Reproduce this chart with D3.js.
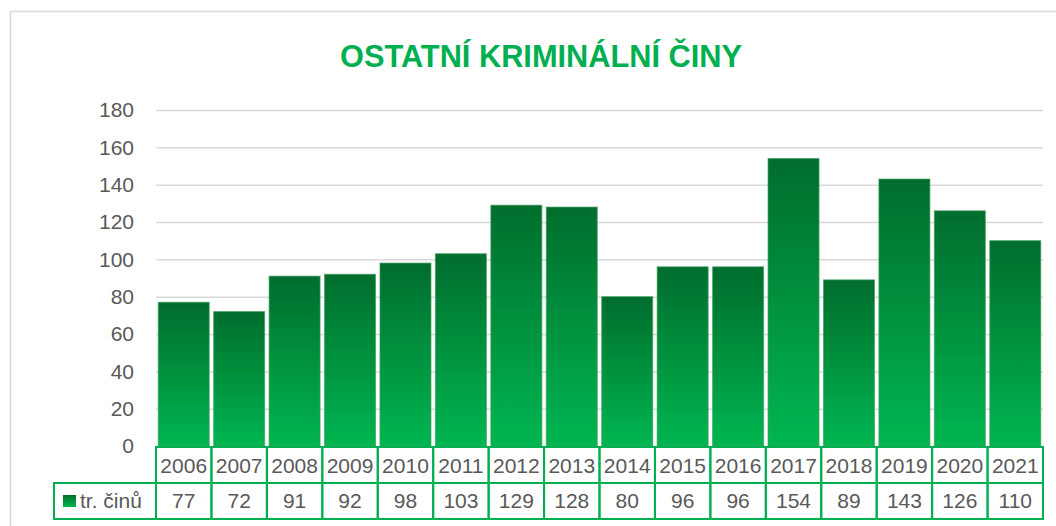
<!DOCTYPE html>
<html>
<head>
<meta charset="utf-8">
<script src="https://cdn.jsdelivr.net/npm/d3@7"></script>
<style>
  body { margin: 0; background: #fff; }
</style>
</head>
<body>
<div id="container"></div>
<script>
var title = 'OSTATNÍ KRIMINÁLNÍ ČINY'
var seriesName = 'tr. činů'
var years = ['2006', '2007', '2008', '2009', '2010', '2011', '2012', '2013',
             '2014', '2015', '2016', '2017', '2018', '2019', '2020', '2021']
var cases = [77, 72, 91, 92, 98, 103, 129, 128, 80, 96, 96, 154, 89, 143, 126, 110]
var yTicks = [0, 20, 40, 60, 80, 100, 120, 140, 160, 180]

var WIDTH = 1056
var HEIGHT = 526
var FONT = '"Liberation Sans", Arial, sans-serif'
var TEXT = '#595959'
var GREEN = '#00b050'

var plotLeft = 156, plotRight = 1043
var plotTop = 110, plotBottom = 446
var rowTop = 447, rowMid = 483, rowBottom = 519
var legendLeft = 54

var svg = d3.select('div#container').append('svg')
  .attr('width', WIDTH)
  .attr('height', HEIGHT)
  .style('display', 'block')

// per-bar gradient, dark on top
var grad = svg.append('defs').append('linearGradient')
  .attr('id', 'barFill')
  .attr('x1', 0).attr('y1', 0).attr('x2', 0).attr('y2', 1)
grad.append('stop').attr('offset', '0%').attr('stop-color', '#006d2d')
grad.append('stop').attr('offset', '100%').attr('stop-color', '#00b650')

// chart frame
svg.append('rect')
  .attr('x', 10.5).attr('y', 11.5)
  .attr('width', 1100).attr('height', 600)
  .attr('fill', 'none')
  .attr('stroke', '#d9d9d9')
  .attr('stroke-width', 1.5)

svg.append('text')
  .attr('x', 541).attr('y', 67)
  .attr('text-anchor', 'middle')
  .attr('textLength', 402)
  .attr('lengthAdjust', 'spacingAndGlyphs')
  .style('font-family', FONT)
  .style('font-weight', 'bold')
  .style('font-size', '31px')
  .style('fill', GREEN)
  .text(title)

var x = d3.scaleBand()
  .domain(years)
  .range([plotLeft, plotRight])
  .paddingInner(0.08)
  .paddingOuter(0.04)

var y = d3.scaleLinear()
  .domain([0, 180])
  .range([plotBottom, plotTop])

// gridlines + tick labels
var yAxis = svg.append('g')
  .attr('transform', 'translate(' + plotLeft + ',0)')
  .call(d3.axisLeft(y)
    .tickValues(yTicks)
    .tickSize(-(plotRight - plotLeft))
    .tickPadding(22)
    .tickFormat(d3.format('d')))
yAxis.select('.domain').remove()
yAxis.selectAll('.tick line')
  .attr('stroke', '#d9d9d9')
  .attr('stroke-width', 1.5)
yAxis.selectAll('.tick text')
  .style('font-family', FONT)
  .style('font-size', '21px')
  .style('fill', TEXT)

svg.append('g').selectAll('rect')
  .data(cases)
  .enter().append('rect')
  .attr('x', function (d, i) { return x(years[i]) })
  .attr('y', function (d) { return y(d) })
  .attr('width', x.bandwidth())
  .attr('height', function (d) { return y(0) - y(d) })
  .attr('fill', 'url(#barFill)')
  .attr('stroke', '#3e9e60')
  .attr('stroke-opacity', 0.7)
  .attr('stroke-width', 1)

// data table below the axis
var step = x.step()
var colLeft = function (i) { return plotLeft + i * step }
var table = svg.append('g')
  .attr('fill', 'none')
  .attr('stroke', GREEN)
  .attr('stroke-width', 2)

table.selectAll('rect.cat')
  .data(years)
  .enter().append('rect')
  .attr('x', function (d, i) { return colLeft(i) })
  .attr('y', rowTop)
  .attr('width', step)
  .attr('height', rowMid - rowTop)

table.selectAll('rect.val')
  .data(cases)
  .enter().append('rect')
  .attr('x', function (d, i) { return colLeft(i) })
  .attr('y', rowMid)
  .attr('width', step)
  .attr('height', rowBottom - rowMid)

table.append('rect')
  .attr('x', legendLeft)
  .attr('y', rowMid)
  .attr('width', plotLeft - legendLeft)
  .attr('height', rowBottom - rowMid)

svg.append('g').selectAll('text')
  .data(years)
  .enter().append('text')
  .attr('x', function (d, i) { return colLeft(i) + step / 2 })
  .attr('y', 473)
  .attr('text-anchor', 'middle')
  .style('font-family', FONT)
  .style('font-size', '21px')
  .style('fill', TEXT)
  .text(function (d) { return d })

svg.append('g').selectAll('text')
  .data(cases)
  .enter().append('text')
  .attr('x', function (d, i) { return colLeft(i) + step / 2 })
  .attr('y', 508)
  .attr('text-anchor', 'middle')
  .style('font-family', FONT)
  .style('font-size', '21px')
  .style('fill', TEXT)
  .text(function (d) { return d })

// legend key in the table
svg.append('rect')
  .attr('x', 63).attr('y', 495)
  .attr('width', 13).attr('height', 12)
  .attr('fill', 'url(#barFill)')
svg.append('text')
  .attr('x', 80).attr('y', 508)
  .style('font-family', FONT)
  .style('font-size', '21px')
  .style('fill', TEXT)
  .text(seriesName)
</script>
</body>
</html>
